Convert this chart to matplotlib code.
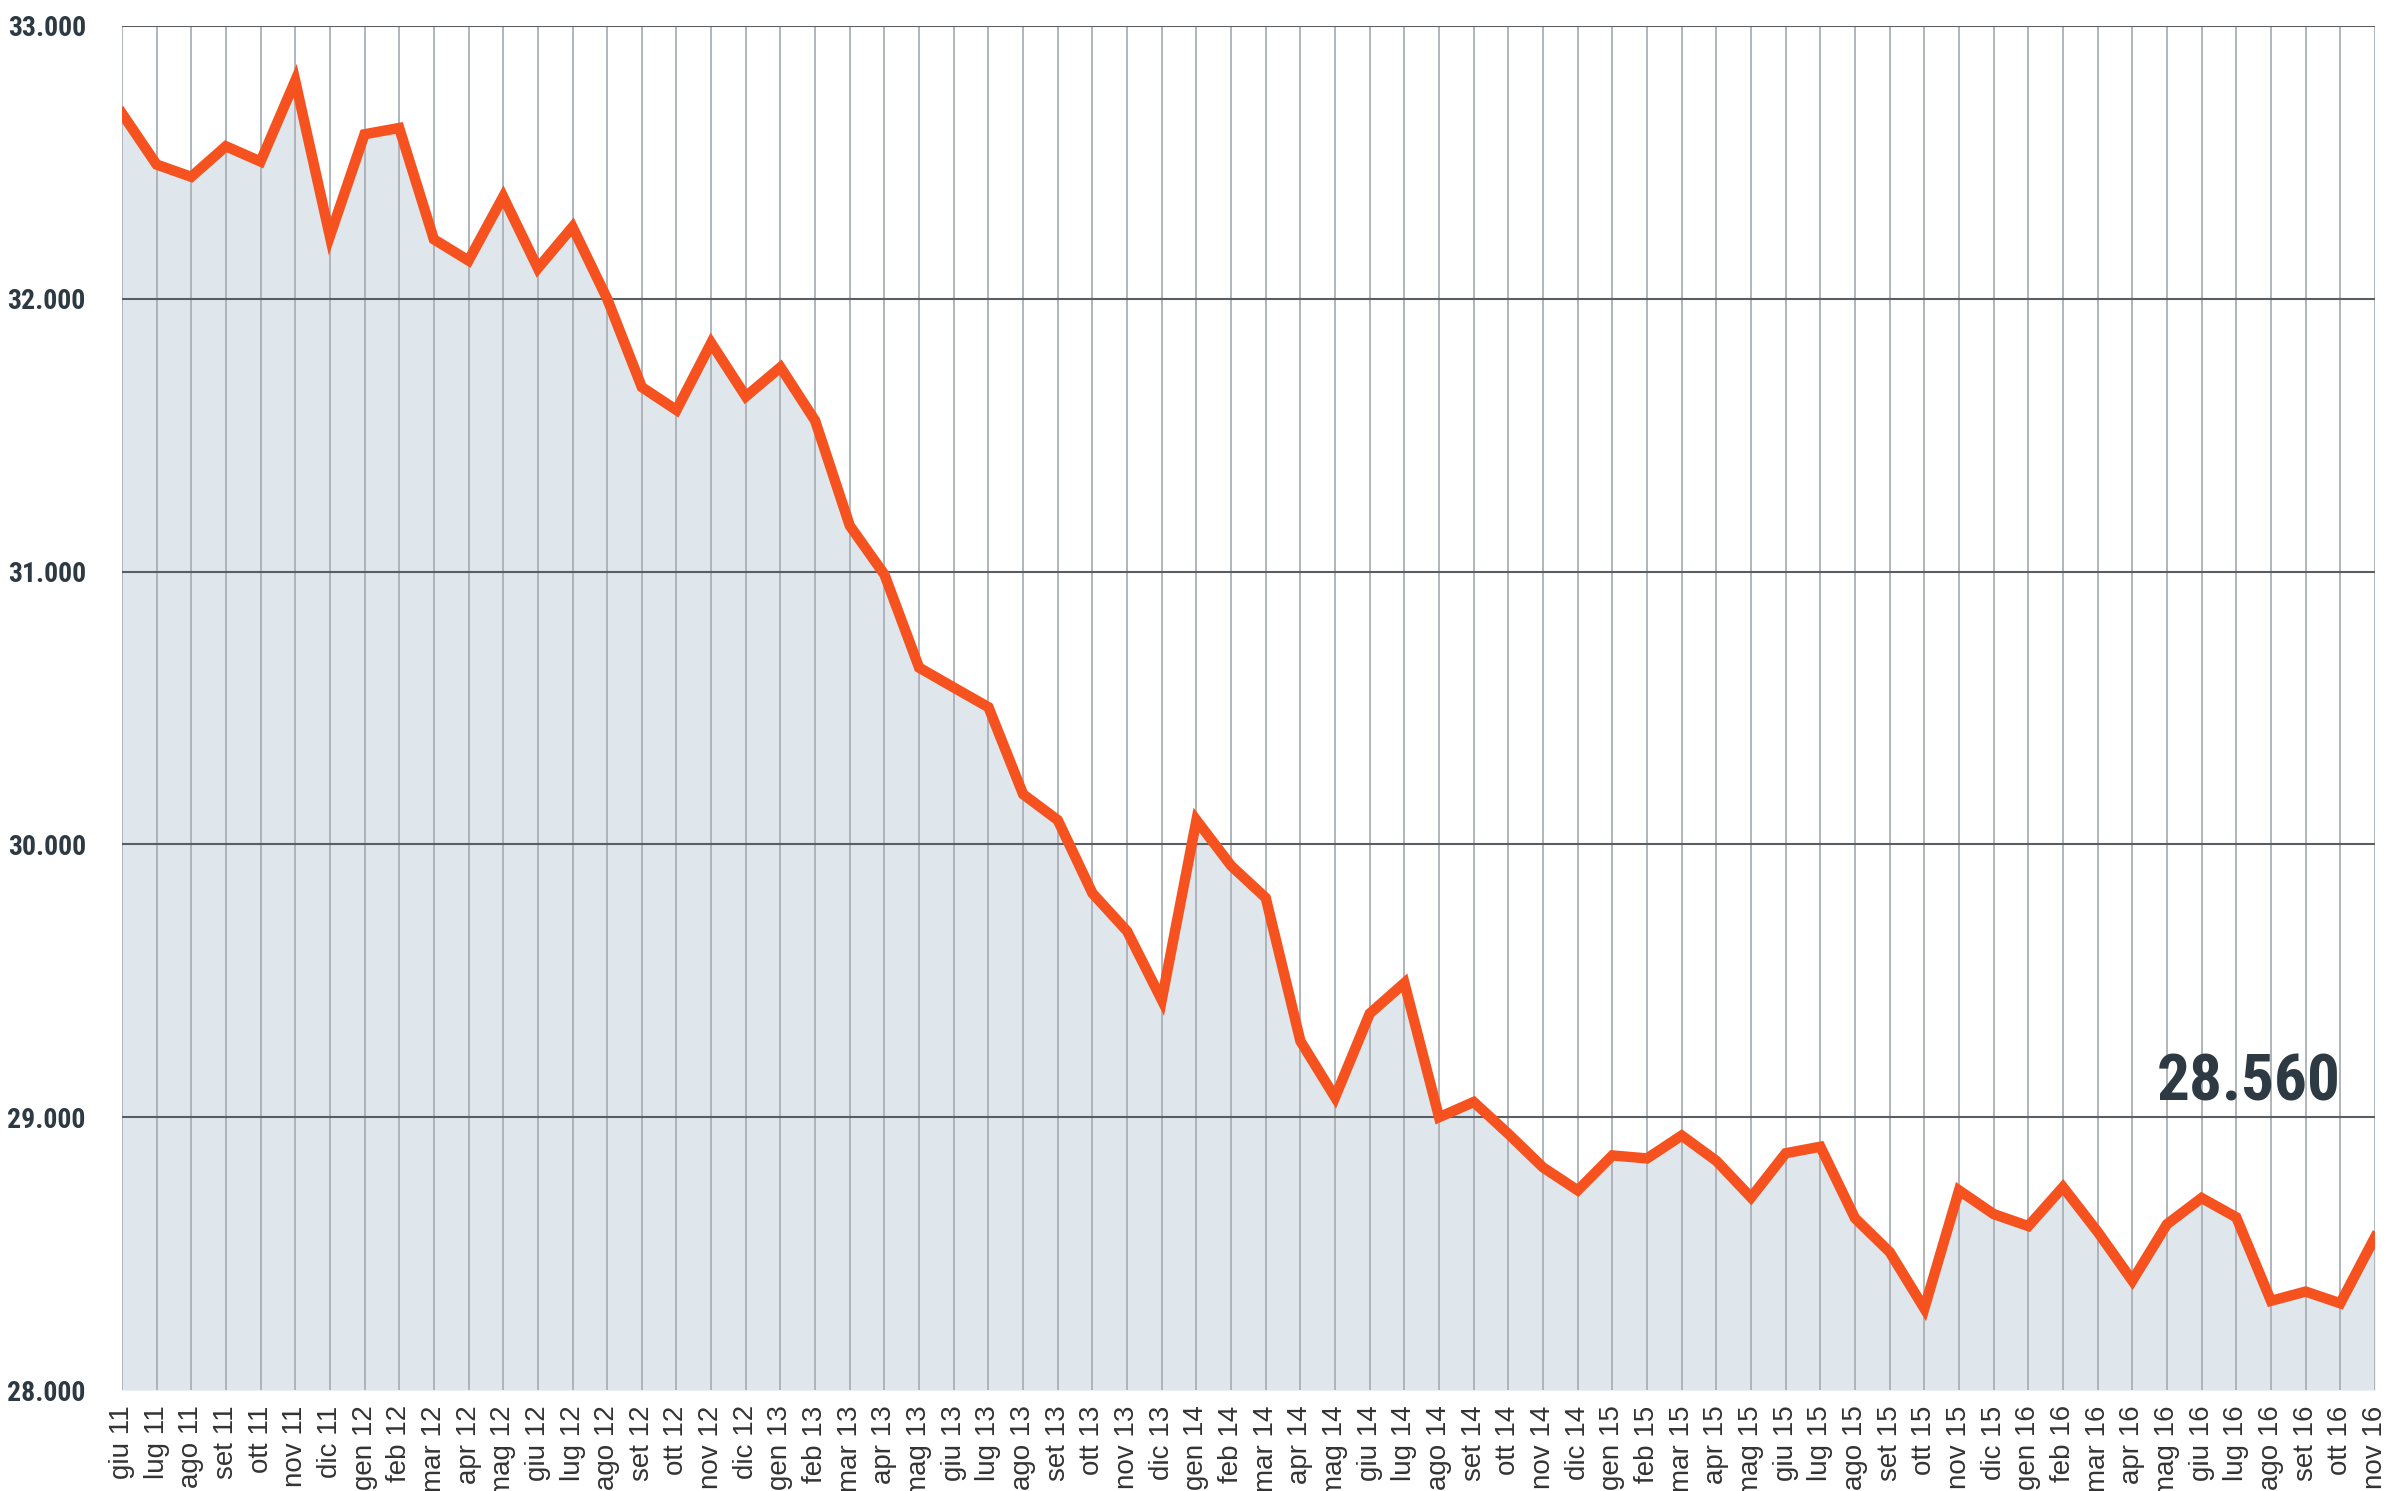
import matplotlib
matplotlib.use("Agg")
import matplotlib.pyplot as plt

mesi = ["giu 11", "lug 11", "ago 11", "set 11", "ott 11", "nov 11", "dic 11",
        "gen 12", "feb 12", "mar 12", "apr 12", "mag 12", "giu 12", "lug 12",
        "ago 12", "set 12", "ott 12", "nov 12", "dic 12", "gen 13", "feb 13",
        "mar 13", "apr 13", "mag 13", "giu 13", "lug 13", "ago 13", "set 13",
        "ott 13", "nov 13", "dic 13", "gen 14", "feb 14", "mar 14", "apr 14",
        "mag 14", "giu 14", "lug 14", "ago 14", "set 14", "ott 14", "nov 14",
        "dic 14", "gen 15", "feb 15", "mar 15", "apr 15", "mag 15", "giu 15",
        "lug 15", "ago 15", "set 15", "ott 15", "nov 15", "dic 15", "gen 16",
        "feb 16", "mar 16", "apr 16", "mag 16", "giu 16", "lug 16", "ago 16",
        "set 16", "ott 16", "nov 16"]

valori = [32680, 32492, 32447, 32559, 32503, 32799, 32229,
          32603, 32626, 32218, 32140, 32374, 32112, 32263,
          32000, 31676, 31592, 31838, 31642, 31749, 31553,
          31168, 30989, 30648, 30575, 30503, 30184, 30089,
          29821, 29682, 29430, 30089, 29922, 29804, 29279,
          29073, 29380, 29492, 29000, 29056, 28939, 28816,
          28732, 28860, 28849, 28933, 28840, 28706, 28868,
          28892, 28630, 28506, 28299, 28732, 28645, 28601,
          28744, 28580, 28401, 28608, 28704, 28633, 28327,
          28361, 28318, 28560]

y_ticks = [28000, 29000, 30000, 31000, 32000, 33000]
y_labels = ["28.000", "29.000", "30.000", "31.000", "32.000", "33.000"]
ultimo = "28.560"

arancio = "#f5521f"
riempi = "#dfe7ed"
scuro = "#2d3a44"
font_cond = ["Roboto Condensed", "Roboto", "DejaVu Sans"]

fig = plt.figure(figsize=(23.9, 14.91), dpi=100)
ax = fig.add_axes([0.051, 0.0677, 0.9427, 0.9149])

x = list(range(len(mesi)))
ax.fill_between(x, valori, 28000, color=riempi, lw=0, zorder=1)
ax.plot(x, valori, color=arancio, lw=7.5, solid_joinstyle="miter", zorder=3)

ax.set_xlim(0, len(mesi) - 1)
ax.set_ylim(28000, 33000)
ax.set_xticks(x)
ax.set_xticklabels(mesi, rotation=90, fontsize=20, color="#333333",
                   family=["Liberation Sans", "DejaVu Sans"])
ax.set_yticks(y_ticks)
ax.set_yticklabels(y_labels, fontsize=20, fontweight="bold", color=scuro,
                   family=font_cond, fontstretch="condensed")
ax.tick_params(axis="x", length=0, pad=11)
ax.tick_params(axis="y", length=0, pad=26)

ax.set_axisbelow(False)
ax.grid(axis="x", color="#a9afb4", lw=1.3, zorder=2)
ax.grid(axis="y", color="#5a5e62", lw=1.5, zorder=2)
ax.get_ygridlines()[0].set_visible(False)
for s in ax.spines.values():
    s.set_visible(False)

ax.text(len(mesi) - 2, 29060, ultimo, ha="right", va="baseline",
        fontsize=47, fontweight="bold", color=scuro, family=font_cond,
        fontstretch="condensed")

plt.savefig("out.png", dpi=100)
